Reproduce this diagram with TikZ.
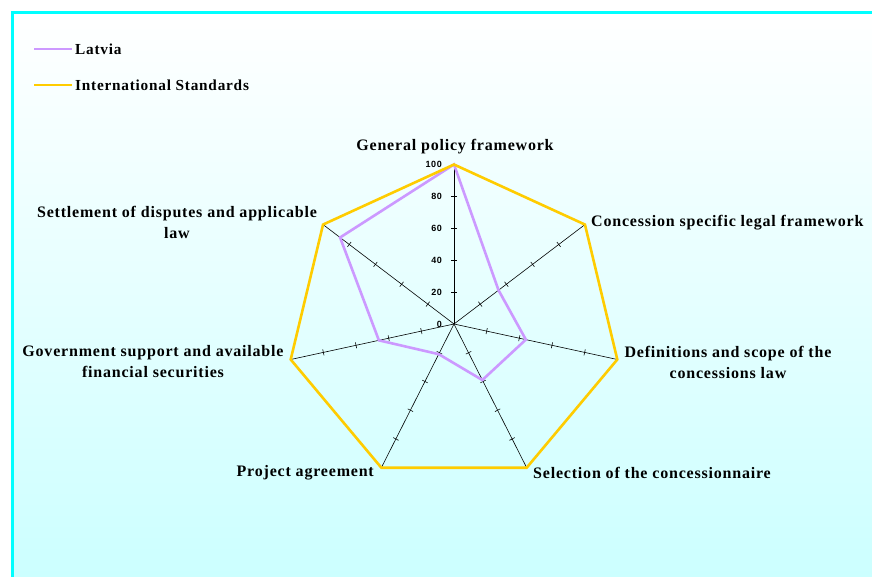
\documentclass[tikz,border=0pt]{standalone}
\usepackage{fontspec}
\setmainfont{Liberation Serif}[LetterSpace=5]
\setsansfont{Liberation Sans}[LetterSpace=6]
\usetikzlibrary{calc}
\definecolor{latvia}{RGB}{204,153,255}
\definecolor{intl}{RGB}{255,204,0}
\definecolor{framecyan}{RGB}{0,255,255}
\definecolor{palecyan}{RGB}{204,255,255}

\begin{document}
\begin{tikzpicture}
		[x=1pt, y=-1pt,
		 spoke/.style = {black, line width=0.6pt},
		 series/.style = {line width=2.6pt, line join=miter},
		 cat/.style = {font=\fontsize{16}{21}\selectfont\bfseries, align=center, inner sep=0pt},
		 val/.style = {font=\sffamily\fontsize{9}{9}\selectfont\bfseries, anchor=east, inner sep=0pt},
		 key/.style = {font=\fontsize{15.3}{18}\selectfont\bfseries, anchor=west, inner sep=3pt}]
	\useasboundingbox (0,0) rectangle (872,576);
	\shade[top color=white, bottom color=palecyan] (12,12) rectangle (872,576);
	\draw[framecyan, line width=3pt] (12,590) -- (12,12) -- (890,12);
	% legend
	\node[key] (lat) at (72,49) {Latvia};
	\node[key] (std) at (72,85) {International Standards};
	\coordinate (latkey) at (34,49);
	\coordinate (stdkey) at (34,85);
	\draw[series, latvia] (latkey) -- (lat.west);
	\draw[series, intl] (stdkey) -- (std.west);
	% spokes
	\coordinate (C) at (454,324);
	\begin{scope}[shift={(C)}, x=167.5pt, y=159.5pt]
		\foreach \i in {0,...,6}
			\coordinate (v\i) at (90-\i*360/7:1);
	\end{scope}
	\foreach \i in {0,...,6}{
		\draw[spoke] (C) -- (v\i);
		\foreach \k in {0.2,0.4,0.6,0.8}{
			\coordinate (t) at ($(C)!\k!(v\i)$);
			\draw[spoke] ($(t)!3pt!90:(v\i)$) -- ($(t)!3pt!-90:(v\i)$);
		}
	}
	\foreach \k in {0,20,...,100}
		\node[val] (n\k) at ($(C)+(-12,-1.595*\k)$) {\k};
	% series
	\foreach \i/\p in {0/1,1/0.34,2/0.44,3/0.39,4/0.21,5/0.46,6/0.87}
		\coordinate (l\i) at ($(C)!\p!(v\i)$);
	\draw[series, latvia] (l0) \foreach \i in {1,...,6}{ -- (l\i)} -- cycle;
	\draw[series, intl] (v0) \foreach \i in {1,...,6}{ -- (v\i)} -- cycle;
	% categories
	\node[cat] (gen) at (455,147) {General policy framework};
	\node[cat, anchor=west] (con) at (591,223) {Concession specific legal framework};
	\node[cat] (def) at (728,362) {Definitions and scope of the\\concessions law};
	\node[cat, anchor=west] (sel) at (533,473) {Selection of the concessionnaire};
	\node[cat, anchor=east] (pro) at (374,473) {Project agreement};
	\node[cat] (gov) at (153,362) {Government support and available\\financial securities};
	\node[cat] (set) at (177,222) {Settlement of disputes and applicable\\law};
\end{tikzpicture}
\end{document}
